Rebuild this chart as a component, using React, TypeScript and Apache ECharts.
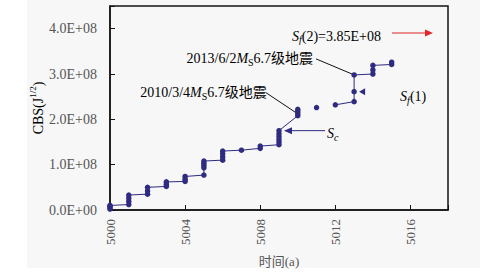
import React, { useEffect, useRef } from 'react';
import * as echarts from 'echarts';

// CBS values are in units of 1E+08 (J^1/2)
const yearsA = [5000, 5001, 5002, 5003, 5004, 5005, 5006, 5007, 5008, 5009, 5010];
const cbsA = [
  [0.02, 0.05, 0.08, 0.10],
  [0.12, 0.19, 0.26, 0.33],
  [0.35, 0.42, 0.50],
  [0.52, 0.57, 0.62],
  [0.63, 0.68, 0.74],
  [0.77, 0.93, 0.98, 1.03, 1.08],
  [1.10, 1.17, 1.24, 1.30],
  [1.32],
  [1.36, 1.41],
  [1.44, 1.50, 1.56, 1.62, 1.68, 1.75],
  [2.08, 2.13, 2.18, 2.22],
];
const yearsB = [5011];
const cbsB = [[2.26]];
const yearsC = [5012, 5013, 5014, 5015];
const cbsC = [
  [2.32],
  [2.39, 2.61, 2.98],
  [3.00, 3.09, 3.19],
  [3.21, 3.26],
];

const xTicks = [5000, 5004, 5008, 5012, 5016];
const yTicks = [0, 1, 2, 3, 4];

const ann2010 = { year: 5010, value: 2.15, label: ['2010/3/4', 'M', 'S', '6.7级地震'] };
const ann2013 = { year: 5013, value: 2.98, label: ['2013/6/2', 'M', 'S', '6.7级地震'] };
const scPoint = { year: 5009, value: 1.75 };
const sf1Point = { year: 5013, value: 2.61 };
const sf2Text = '(2)=3.85E+08';

const NAVY = '#2e2b80';
const GREY = '#555555';
const FONT = 'Liberation Serif, Noto Sans CJK SC, serif';

const flatten = (years: number[], vals: number[][]) => {
  const out: number[][] = [];
  years.forEach((y, i) => vals[i].forEach((v) => out.push([y, v])));
  return out;
};

const rich = {
  t: { fontSize: 14, lineHeight: 14, padding: [3, 0, 0, 0], verticalAlign: 'top', fontFamily: FONT, color: GREY },
  i: { fontSize: 14, lineHeight: 14, padding: [3, 0, 0, 0], verticalAlign: 'top', fontFamily: FONT, color: GREY, fontStyle: 'italic' },
  sub: { fontSize: 10, lineHeight: 10, padding: [9, 0, 0, 0], verticalAlign: 'top', fontFamily: FONT, color: GREY },
  subi: { fontSize: 10, lineHeight: 10, padding: [9, 0, 0, 0], verticalAlign: 'top', fontFamily: FONT, color: GREY, fontStyle: 'italic' },
  sup: { fontSize: 9, lineHeight: 9, padding: [0, 0, 0, 0], verticalAlign: 'top', fontFamily: FONT, color: GREY },
};

const makeSeries = (data: number[][]) => ({
  type: 'line',
  data,
  symbol: 'circle',
  symbolSize: 5.5,
  showAllSymbol: true,
  lineStyle: { color: NAVY, width: 1 },
  itemStyle: { color: NAVY },
  silent: true,
});

export default function App() {
  const ref = useRef<HTMLDivElement>(null);
  useEffect(() => {
    const chart = echarts.init(ref.current!, null, { renderer: 'svg' });
    chart.setOption({
      animation: false,
      grid: {
        left: 110, right: 32, top: 6, bottom: 66,
        show: true, borderColor: '#151515', borderWidth: 1.5, backgroundColor: 'transparent',
      },
      xAxis: {
        type: 'value', min: 5000, max: 5018, interval: 4,
        axisLine: { lineStyle: { color: '#151515', width: 1.5 } },
        axisTick: { inside: true, length: 5, lineStyle: { color: '#151515' } },
        splitLine: { show: false },
        axisLabel: {
          rotate: 90, margin: 9, fontSize: 13, fontFamily: FONT, color: GREY,
          formatter: (v: number) => (xTicks.includes(v) ? String(v) : ''),
        },
        name: '时间(a)', nameLocation: 'middle', nameGap: 45,
        nameTextStyle: { fontSize: 13, fontFamily: FONT, color: GREY },
      },
      yAxis: {
        type: 'value', min: 0, max: 4.5, interval: 1,
        axisLine: { lineStyle: { color: '#151515', width: 1.5 } },
        axisTick: { inside: true, length: 5, lineStyle: { color: '#151515' } },
        splitLine: { show: false },
        axisLabel: {
          margin: 13, fontSize: 14, fontFamily: FONT, color: GREY,
          formatter: (v: number) => (yTicks.includes(v) ? (v === 0 ? '0.0E+00' : v.toFixed(1) + 'E+08') : ''),
        },
      },
      series: [
        makeSeries(flatten(yearsA, cbsA)),
        makeSeries(flatten(yearsB, cbsB)),
        makeSeries(flatten(yearsC, cbsC)),
      ],
    });

    const px = (x: number, y: number) => chart.convertToPixel({ gridIndex: 0 }, [x, y]) as number[];
    const a10 = px(ann2010.year, ann2010.value);
    const a13 = px(ann2013.year, ann2013.value);
    const sc = px(scPoint.year, scPoint.value);
    const sf1 = px(sf1Point.year, sf1Point.value);
    const annText = (l: string[]) => `{t|${l[0]}}{i|${l[1]}}{sub|${l[2]}}{t|${l[3]}}`;

    chart.setOption({
      graphic: [
        {
          type: 'text', x: 35, y: 108, rotation: Math.PI / 2,
          style: { text: '{t|CBS(J}{sup|1/2}{t|)}', rich, align: 'center', verticalAlign: 'middle' },
        },
        // 2013 annotation
        {
          type: 'line', shape: { x1: a13[0] - 38, y1: a13[1] - 16, x2: a13[0], y2: a13[1] },
          style: { stroke: '#111', lineWidth: 1 },
        },
        {
          type: 'text', x: a13[0] - 41, y: a13[1] - 19,
          style: { text: annText(ann2013.label), rich, align: 'right', verticalAlign: 'middle' },
        },
        // 2010 annotation
        {
          type: 'line', shape: { x1: a10[0] - 32, y1: a10[1] - 20, x2: a10[0] - 2, y2: a10[1] },
          style: { stroke: '#111', lineWidth: 1 },
        },
        {
          type: 'text', x: a10[0] - 31, y: a10[1] - 23,
          style: { text: annText(ann2010.label), rich, align: 'right', verticalAlign: 'middle' },
        },
        // S_c arrow
        {
          type: 'polygon',
          shape: { points: [[sc[0] + 5, sc[1]], [sc[0] + 13, sc[1] - 3.5], [sc[0] + 13, sc[1] + 3.5]] },
          style: { fill: NAVY },
        },
        {
          type: 'line', shape: { x1: sc[0] + 12, y1: sc[1], x2: sc[0] + 46, y2: sc[1] },
          style: { stroke: NAVY, lineWidth: 1 },
        },
        {
          type: 'text', x: sc[0] + 48, y: sc[1],
          style: { text: '{i|S}{subi|c}', rich, align: 'left', verticalAlign: 'middle' },
        },
        // S_f(1)
        {
          type: 'polygon',
          shape: { points: [[sf1[0] + 5, sf1[1]], [sf1[0] + 11, sf1[1] - 3.5], [sf1[0] + 11, sf1[1] + 3.5]] },
          style: { fill: NAVY },
        },
        {
          type: 'text', x: sf1[0] + 46, y: sf1[1] + 2,
          style: { text: '{i|S}{subi|f}{t|(1)}', rich, align: 'left', verticalAlign: 'middle' },
        },
        // S_f(2)
        {
          type: 'text', x: 292, y: 33,
          style: { text: `{i|S}{subi|f}{t|${sf2Text}}`, rich, align: 'left', verticalAlign: 'middle' },
        },
        {
          type: 'line', shape: { x1: 392, y1: 33, x2: 427, y2: 33 },
          style: { stroke: '#e0262a', lineWidth: 1.2 },
        },
        {
          type: 'polygon',
          shape: { points: [[433, 33], [425, 29.5], [425, 36.5]] },
          style: { fill: '#e0262a' },
        },
      ],
    });
    return () => chart.dispose();
  }, []);

  return (
    <div style={{ position: 'fixed', left: 0, top: 0, width: 480, height: 276, background: '#fff' }}>
      <div style={{ position: 'absolute', left: 27, top: 0, width: 453, height: 268, background: '#f7f7f7' }} />
      <div ref={ref} style={{ position: 'absolute', left: 0, top: 0, width: 480, height: 276 }} />
    </div>
  );
}
